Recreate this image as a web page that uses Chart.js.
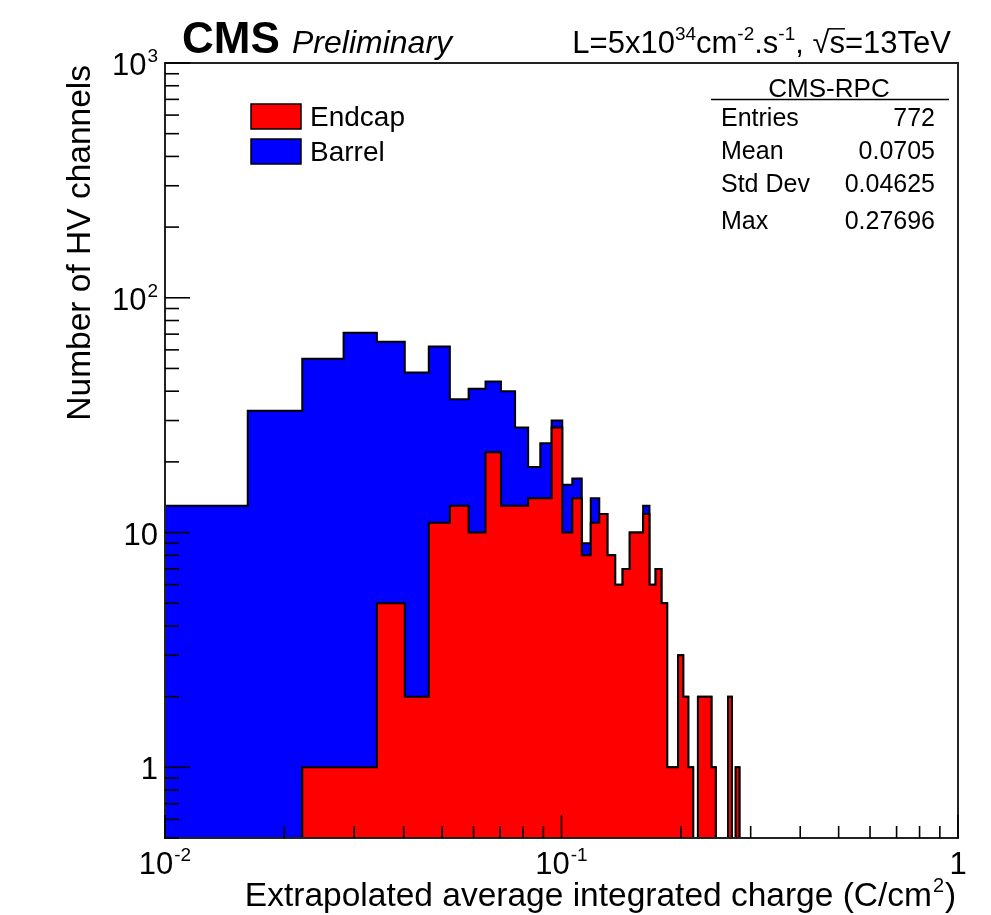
<!DOCTYPE html>
<html>
<head>
<meta charset="utf-8">
<script src="https://cdn.jsdelivr.net/npm/chart.js@4.4.0/dist/chart.umd.min.js"></script>
<style>
  html, body { margin: 0; padding: 0; background: #fff; }
  #wrap { width: 991px; height: 915px; }
</style>
</head>
<body>
<div id="wrap"><canvas id="chart"></canvas></div>
<script>
// bin edges (C/cm2)
const binEdges = [0.0100, 0.01617, 0.02219, 0.02821, 0.03423, 0.04025, 0.04627, 0.05229, 0.05831,
  0.06433, 0.07035, 0.07637, 0.08239, 0.08841, 0.09443, 0.10045, 0.10647, 0.11249, 0.11851,
  0.12453, 0.13055, 0.13657, 0.14259, 0.14861, 0.15463, 0.16065, 0.16667, 0.17269, 0.17871,
  0.18473, 0.19075, 0.19677, 0.20279, 0.20881, 0.21483, 0.22085, 0.22687, 0.23289, 0.23891,
  0.24493, 0.25095, 0.25697, 0.26299, 0.26901, 0.27503, 0.28105];

const endcapCounts = [0, 0, 1, 1, 5, 2, 11, 13, 10, 22, 13, 13, 14, 14, 28, 10, 14, 8, 11, 12,
  8, 6, 7, 10, 10, 12, 6, 7, 5, 1, 1, 3, 2, 1, 0, 2, 2, 2, 1, 0, 0, 0, 2, 0, 1];

const barrelCounts = [13, 33, 54, 70, 60, 46, 51, 24, 31, 22, 27, 15, 5, 10, 2, 6, 3, 1, 3, 0,
  0, 0, 0, 0, 0, 1, 0, 0, 0, 0, 0, 0, 0, 0, 0, 0, 0, 0, 0, 0, 0, 0, 0, 0, 0];

const xTickValues = [0.01, 0.1, 1];
const xTickText = ["10^-2", "10^-1", "1"];
const yTickValues = [1, 10, 100, 1000];
const yTickText = ["1", "10", "10^2", "10^3"];

const statNames = ["Entries", "Mean", "Std Dev", "Max"];
const statValues = ["772", "0.0705", "0.04625", "0.27696"];

const FF = '"Liberation Sans", Arial, Helvetica, sans-serif';
const FLOOR = 0.1; // empty bins go below the visible range

// stacked: barrel drawn on top of endcap
const stackTop = barrelCounts.map((b, i) => b + endcapCounts[i]);

function histPoints(counts) {
  const pts = counts.map((c, i) => ({ x: binEdges[i], y: c > 0 ? c : FLOOR }));
  pts.push({ x: binEdges[binEdges.length - 1], y: FLOOR });
  return pts;
}

function richText(ctx, x, y, text, size, align, style) {
  // "10^-2" style: part after ^ is a superscript
  const parts = text.split("^");
  const base = parts[0], sup = parts[1] || "";
  const supSize = Math.round(size * 0.62);
  ctx.font = style + " " + size + "px " + FF;
  const wb = ctx.measureText(base).width;
  ctx.font = style + " " + supSize + "px " + FF;
  const ws = sup ? ctx.measureText(sup).width + 1 : 0;
  let x0 = x;
  if (align === "center") x0 = x - (wb + ws) / 2;
  if (align === "right") x0 = x - (wb + ws);
  ctx.textAlign = "left";
  ctx.font = style + " " + size + "px " + FF;
  ctx.fillText(base, x0, y);
  if (sup) {
    ctx.font = style + " " + supSize + "px " + FF;
    ctx.fillText(sup, x0 + wb + 1, y - size * 0.42);
  }
}

function drawParts(ctx, xRight, y, parts, size) {
  const supSize = Math.round(size * 0.6);
  let total = 0;
  parts.forEach(p => {
    ctx.font = (p.sup ? supSize : size) + "px " + FF;
    p.w = ctx.measureText(p.t).width;
    total += p.w;
  });
  let x = xRight - total;
  ctx.textAlign = "left";
  parts.forEach(p => {
    ctx.font = (p.sup ? supSize : size) + "px " + FF;
    ctx.fillText(p.t, x, p.sup ? y - size * 0.42 : y);
    if (p.over) {
      ctx.beginPath();
      ctx.lineWidth = 1.5;
      ctx.moveTo(x - 1, y - size * 0.78);
      ctx.lineTo(x + p.w, y - size * 0.78);
      ctx.stroke();
    }
    x += p.w;
  });
}

const rootDecor = {
  id: "rootDecor",
  afterDraw(chart) {
    const ctx = chart.ctx;
    const a = chart.chartArea;
    const xs = chart.scales.x, ys = chart.scales.y;
    ctx.save();
    ctx.fillStyle = "#000";
    ctx.strokeStyle = "#000";
    ctx.textBaseline = "alphabetic";

    // frame
    ctx.lineWidth = 2;
    ctx.strokeStyle = "#222";
    ctx.strokeRect(a.left, a.top, a.right - a.left, a.bottom - a.top);
    ctx.strokeStyle = "#000";

    // ticks, pointing inward
    ctx.lineWidth = 1.6;
    for (let d = -2; d <= 0; d++) {
      for (let m = 1; m <= 9; m++) {
        const v = m * Math.pow(10, d);
        if (v < 0.01 || v > 1.0001) continue;
        const px = xs.getPixelForValue(v);
        const len = m === 1 ? 23 : 12;
        ctx.beginPath();
        ctx.moveTo(px, a.bottom);
        ctx.lineTo(px, a.bottom - len);
        ctx.stroke();
      }
    }
    for (let d = -1; d <= 3; d++) {
      for (let m = 1; m <= 9; m++) {
        const v = m * Math.pow(10, d);
        if (v < 0.5 || v > 1000.1) continue;
        const py = ys.getPixelForValue(v);
        const len = m === 1 ? 25 : 14;
        ctx.beginPath();
        ctx.moveTo(a.left, py);
        ctx.lineTo(a.left + len, py);
        ctx.stroke();
      }
    }

    // tick labels
    xTickValues.forEach((v, i) => {
      richText(ctx, xs.getPixelForValue(v), 874, xTickText[i], 31, "center", "");
    });
    yTickValues.forEach((v, i) => {
      richText(ctx, 158, ys.getPixelForValue(v) + 12, yTickText[i], 31, "right", "");
    });

    // axis titles
    ctx.font = "33.5px " + FF;
    ctx.textAlign = "right";
    ctx.fillText("Extrapolated average integrated charge (C/cm", 958 - 26, 906);
    ctx.font = "20px " + FF;
    ctx.textAlign = "left";
    ctx.fillText("2", 958 - 25, 892);
    ctx.font = "33.5px " + FF;
    ctx.fillText(")", 958 - 13, 906);

    ctx.save();
    ctx.translate(90, 65);
    ctx.rotate(-Math.PI / 2);
    ctx.font = "33.5px " + FF;
    ctx.textAlign = "right";
    ctx.fillText("Number of HV channels", 0, 0);
    ctx.restore();

    // header
    ctx.textAlign = "left";
    ctx.font = "bold 44px " + FF;
    ctx.fillText("CMS", 182, 53);
    ctx.font = "italic 32px " + FF;
    ctx.fillText("Preliminary", 292, 53);

    drawParts(ctx, 951, 53, [
      { t: "L=5x10" }, { t: "34", sup: true }, { t: "cm" }, { t: "-2", sup: true },
      { t: ".s" }, { t: "-1", sup: true }, { t: ", " }, { t: "\u221A" }, { t: "s", over: true },
      { t: "=13TeV" }
    ], 31);

    // legend
    const ds = chart.data.datasets;
    const rows = [{ y: 104, d: ds[0] }, { y: 139, d: ds[1] }];
    rows.forEach(r => {
      ctx.fillStyle = r.d.backgroundColor;
      ctx.fillRect(251, r.y, 50, 25);
      ctx.lineWidth = 1.5;
      ctx.strokeStyle = "#000";
      ctx.strokeRect(251, r.y, 50, 25);
      ctx.fillStyle = "#000";
      ctx.font = "28px " + FF;
      ctx.textAlign = "left";
      ctx.fillText(r.d.label, 310, r.y + 22);
    });

    // stats box
    ctx.font = "26px " + FF;
    ctx.textAlign = "center";
    ctx.fillText("CMS-RPC", 829, 97);
    ctx.lineWidth = 1.5;
    ctx.beginPath();
    ctx.moveTo(711, 99.5);
    ctx.lineTo(949, 99.5);
    ctx.stroke();
    const rowY = [126, 159, 192, 229];
    ctx.font = "25px " + FF;
    statNames.forEach((n, i) => {
      ctx.textAlign = "left";
      ctx.fillText(n, 721, rowY[i]);
      ctx.textAlign = "right";
      ctx.fillText(statValues[i], 935, rowY[i]);
    });

    ctx.restore();
  }
};

new Chart(document.getElementById("chart"), {
  type: "line",
  data: {
    datasets: [
      {
        label: "Endcap",
        data: histPoints(endcapCounts),
        stepped: "before",
        backgroundColor: "#ff0000",
        borderColor: "#000000",
        borderWidth: 2,
        pointRadius: 0,
        fill: "start"
      },
      {
        label: "Barrel",
        data: histPoints(stackTop),
        stepped: "before",
        backgroundColor: "#0000ff",
        borderColor: "#000000",
        borderWidth: 2,
        pointRadius: 0,
        fill: "start"
      }
    ]
  },
  options: {
    responsive: true,
    maintainAspectRatio: false,
    animation: false,
    layout: { padding: { left: 165, right: 33, top: 63, bottom: 77 } },
    scales: {
      x: { type: "logarithmic", min: 0.01, max: 1, display: false },
      y: { type: "logarithmic", min: 0.5, max: 1000, display: false }
    },
    plugins: {
      legend: { display: false },
      tooltip: { enabled: false }
    }
  },
  plugins: [rootDecor]
});
</script>
</body>
</html>
